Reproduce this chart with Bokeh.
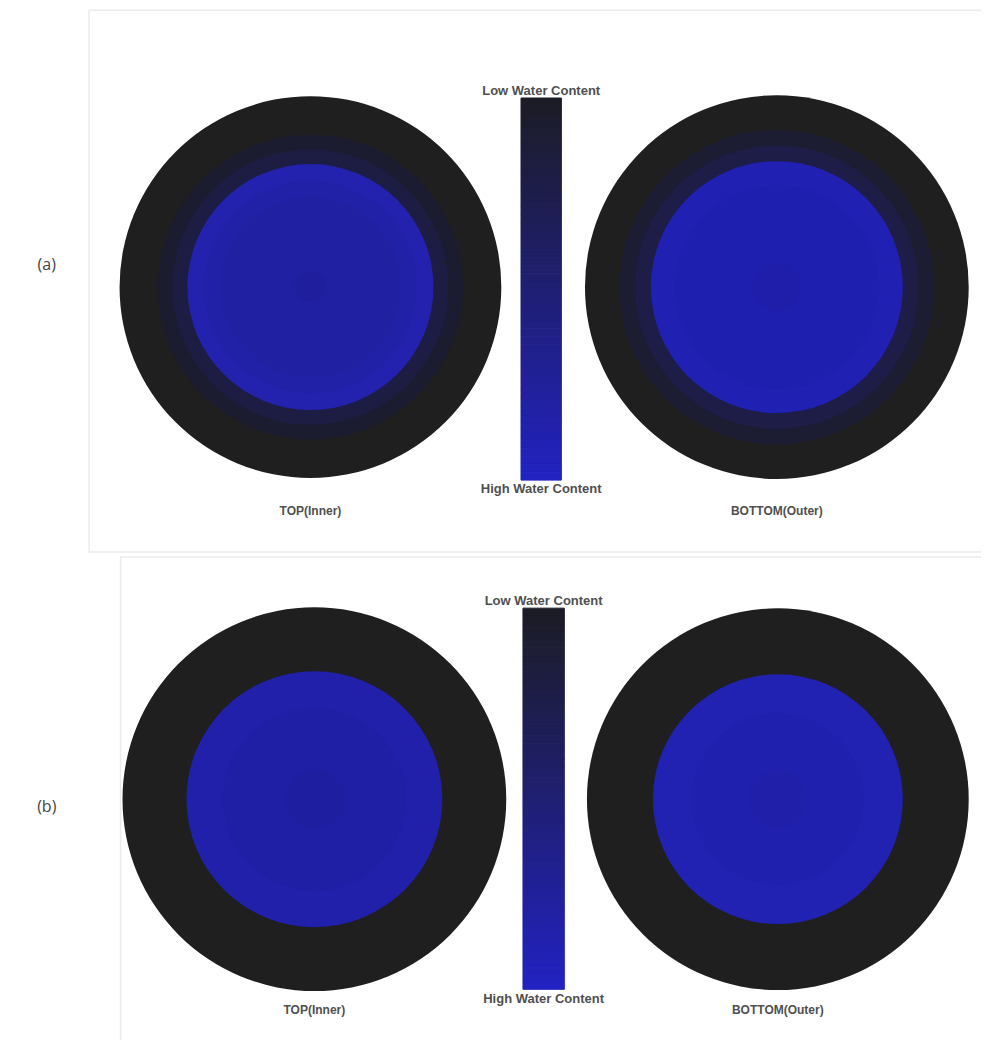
from bokeh.plotting import figure
from bokeh.models import Range1d, ColumnDataSource
from bokeh.embed import file_html
from bokeh.resources import INLINE
from bokeh.core.properties import value

# ---------------- data ----------------
panel_labels = ["(a)", "(b)"]
captions = ["TOP(Inner)", "BOTTOM(Outer)", "TOP(Inner)", "BOTTOM(Outer)"]
bar_top_label = "Low Water Content"
bar_bottom_label = "High Water Content"

# ring outer radii (px) and fills, outermost first, per disc
ring_radii = [
    [194, 155, 140, 125, 108, 92, 16],      # (a) TOP(Inner)
    [195, 160, 144, 128, 104, 24],          # (a) BOTTOM(Outer)
    [195, 130, 93, 30],                      # (b) TOP(Inner)
    [194, 127, 87, 30],                      # (b) BOTTOM(Outer)
]
ring_colors = [
    ["#1f1f20", "#1c1c30", "#1d1d44", "#2222ae", "#2121a8", "#2020a3", "#1f1f9e"],
    ["#1f1f20", "#1c1c32", "#1d1d48", "#2020b2", "#1f1faf", "#1e1eaa"],
    ["#1f1f20", "#2020aa", "#1f1fa5", "#1e1ea1"],
    ["#1f1f20", "#2121b2", "#2020ae", "#1f1faa"],
]
bar_top_rgb = (28, 28, 38)
bar_bottom_rgb = (34, 34, 192)

# ---------------- layout (reference pixel coordinates) ----------------
disc_x = [315, 789, 319, 790]
disc_y = [291, 291, 811, 811]
cap_y = [518, 518, 1025, 1025]
bar_boxes = [(529, 570, 99, 487), (531, 573, 617, 1004)]   # left, right, top, bottom
panel_label_pos = [(47, 268), (47, 818)]
frames = [(90, 1010, 10, 560), (122, 1010, 565, 1070)]

p = figure(width=981, height=1040, x_range=Range1d(0, 997), y_range=Range1d(1056, 0),
           output_backend="svg", toolbar_location=None, min_border=0)
p.axis.visible = False
p.grid.visible = False
p.outline_line_color = None
p.background_fill_color = "white"
p.border_fill_color = "white"

# frames
for (l, r, t, b) in frames:
    p.quad(left=[l], right=[r], top=[t], bottom=[b], fill_color=None,
           line_color="#ebebeb", line_width=1.5)

# discs
xs, ys, rs, cs = [], [], [], []
for i in range(len(ring_radii)):
    for rad, col in zip(ring_radii[i], ring_colors[i]):
        xs.append(disc_x[i]); ys.append(disc_y[i]); rs.append(rad); cs.append(col)
src = ColumnDataSource(dict(x=xs, y=ys, r=rs, c=cs))
p.circle(x="x", y="y", radius="r", fill_color="c", line_color=None, source=src)

# colour bars
n = 48
def mix(t):
    return "#%02x%02x%02x" % tuple(int(round(a + (b - a) * t)) for a, b in zip(bar_top_rgb, bar_bottom_rgb))
for (l, r, t, b) in bar_boxes:
    h = (b - t) / n
    tops = [t + k * h for k in range(n)]
    bots = [t + (k + 1) * h for k in range(n)]
    cols = [mix(k / (n - 1)) for k in range(n)]
    p.quad(left=[l] * n, right=[r] * n, top=tops, bottom=bots, fill_color=cols,
           line_color=cols, line_width=1)
    cx = (l + r) / 2
    p.text(x=[cx], y=[t - 8], text=[bar_top_label], text_align="center", text_baseline="middle",
           text_font=value("Liberation Sans"), text_font_style="bold", text_font_size="13px",
           text_color="#4f4f4f")
    p.text(x=[cx], y=[b + 9], text=[bar_bottom_label], text_align="center", text_baseline="middle",
           text_font=value("Liberation Sans"), text_font_style="bold", text_font_size="13px",
           text_color="#4f4f4f")

# captions
p.text(x=disc_x, y=cap_y, text=captions, text_align="center", text_baseline="middle",
       text_font=value("Liberation Sans"), text_font_style="bold", text_font_size="12px",
       text_color="#505050")

# panel labels
p.text(x=[q[0] for q in panel_label_pos], y=[q[1] for q in panel_label_pos], text=panel_labels,
       text_align="center", text_baseline="middle", text_font=value("Open Sans"),
       text_font_size="16px", text_color="#444444")

open("out.html", "w").write(file_html(p, INLINE))
